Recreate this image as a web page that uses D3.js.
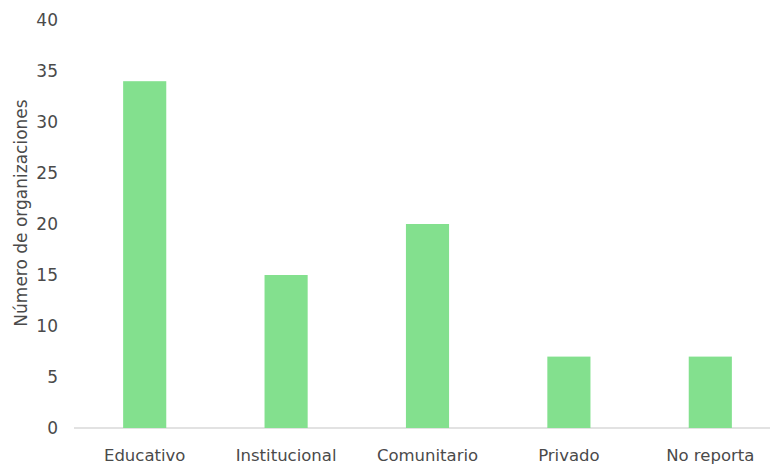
<!DOCTYPE html>
<html>
<head>
<meta charset="utf-8">
<script src="https://cdn.jsdelivr.net/npm/d3@7"></script>
<style>
  html, body { margin: 0; padding: 0; background: #fff; }
  svg { display: block; }
  text { font-family: "DejaVu Sans", Verdana, sans-serif; fill: #4a4a4a; }
</style>
</head>
<body>
<svg id="chart" width="770" height="467"></svg>
<script>
const categories = ["Educativo", "Institucional", "Comunitario", "Privado", "No reporta"];
const values = [34, 15, 20, 7, 7];
const yTicks = [0, 5, 10, 15, 20, 25, 30, 35, 40];
const yTitle = "Número de organizaciones";

const svg = d3.select("#chart");
const x = d3.scaleBand().domain(categories).range([74, 781]).paddingInner(0.695).paddingOuter(0.3475);
const y = d3.scaleLinear().domain([0, 40]).range([428, 20]);

// axis line
svg.append("line")
  .attr("x1", 74).attr("x2", 770)
  .attr("y1", y(0)).attr("y2", y(0))
  .attr("stroke", "#d9d9d9").attr("stroke-width", 1.5);

// bars
svg.selectAll("rect.bar").data(values).enter().append("rect")
  .attr("class", "bar")
  .attr("x", (d, i) => x(categories[i]))
  .attr("width", x.bandwidth())
  .attr("y", d => y(d))
  .attr("height", d => y(0) - y(d))
  .attr("fill", "#83e08e");

// y tick labels
svg.selectAll("text.ytick").data(yTicks).enter().append("text")
  .attr("class", "ytick")
  .attr("x", 58)
  .attr("y", d => y(d))
  .attr("dy", "0.35em")
  .attr("text-anchor", "end")
  .style("font-size", "17px")
  .text(d => d);

// x labels
svg.selectAll("text.xlab").data(categories).enter().append("text")
  .attr("class", "xlab")
  .attr("x", d => x(d) + x.bandwidth() / 2)
  .attr("y", 461)
  .attr("text-anchor", "middle")
  .style("font-size", "16.5px")
  .text(d => d);

// y title
svg.append("text")
  .attr("transform", "translate(21,213) rotate(-90)")
  .attr("dy", "0.35em")
  .attr("text-anchor", "middle")
  .style("font-size", "17px")
  .text(yTitle);
</script>
</body>
</html>
